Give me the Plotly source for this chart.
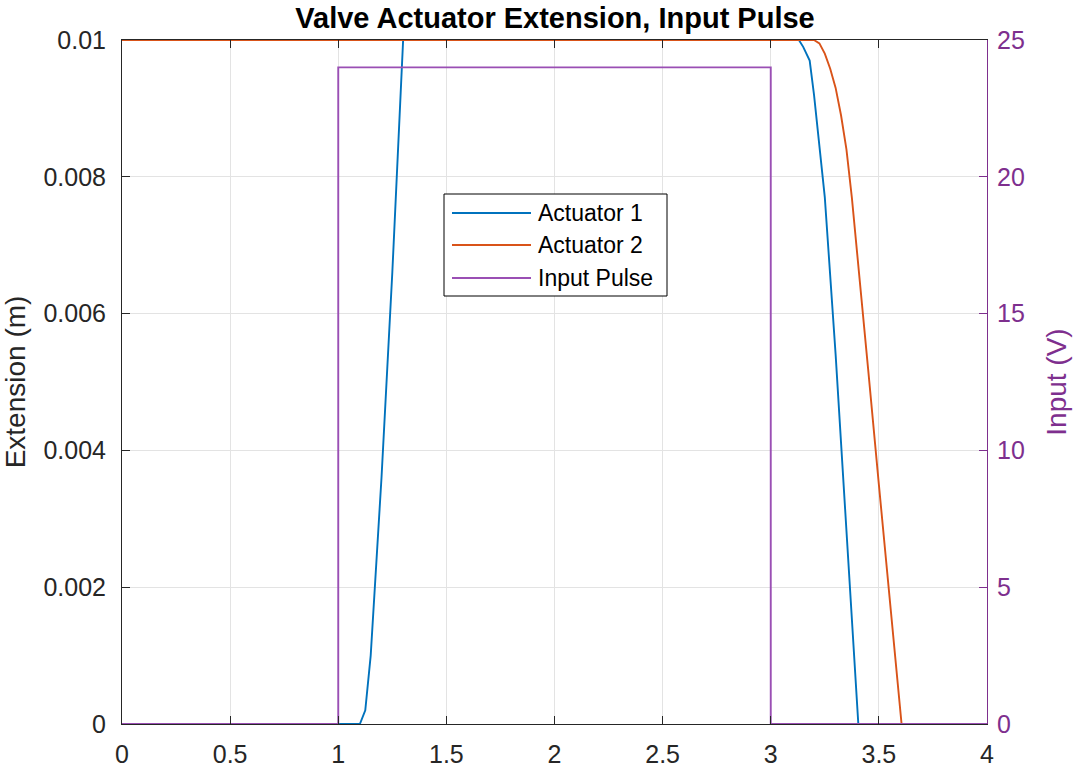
import plotly.graph_objects as go

# Data
t_act1 = [0, 1.1, 1.125, 1.15, 1.2, 1.25, 1.3, 3.13, 3.15, 3.18, 3.2, 3.25, 3.3, 3.35, 3.4, 3.405, 4]
ext_act1 = [0, 0, 0.0002, 0.001, 0.0036, 0.0066, 0.01, 0.01, 0.0099, 0.0097, 0.0092, 0.0077, 0.0054, 0.0029, 0.00025, 0, 0]

t_act2 = [0, 3.2, 3.225, 3.25, 3.275, 3.3, 3.325, 3.35, 3.375, 3.4, 3.45, 3.5, 3.55, 3.6, 3.605, 4]
ext_act2 = [0.01, 0.01, 0.00995, 0.0098, 0.00958, 0.0093, 0.0089, 0.0084, 0.0077, 0.0069, 0.0052, 0.0035, 0.0018, 0.0002, 0, 0]

t_pulse = [0, 1, 1, 3, 3, 4]
v_pulse = [0, 0, 24, 24, 0, 0]

series_names = ["Actuator 1", "Actuator 2", "Input Pulse"]

x_ticks = [0, 0.5, 1, 1.5, 2, 2.5, 3, 3.5, 4]
x_tick_labels = ["0", "0.5", "1", "1.5", "2", "2.5", "3", "3.5", "4"]
y_ticks = [0, 0.002, 0.004, 0.006, 0.008, 0.01]
y_tick_labels = ["0", "0.002", "0.004", "0.006", "0.008", "0.01"]
y2_ticks = [0, 5, 10, 15, 20, 25]

BLUE = "#0072BD"
ORANGE = "#D95319"
PURPLE = "#9A4FB4"
PURPLE_AX = "#7E2F8E"
AX = "#262626"
GRID = "#E3E3E3"
FONT = "Liberation Sans, Arial, Helvetica, sans-serif"

W, H = 1075, 767
L, R, T, B = 122, 88, 40, 43
PW, PH = W - L - R, H - T - B

def px_x(px):
    return (px - L) / PW

def px_y(py):
    return (H - B - py) / PH

fig = go.Figure()
colors = [BLUE, ORANGE, PURPLE]
fig.add_trace(go.Scatter(x=t_act1, y=ext_act1, mode="lines", name=series_names[0],
                         line=dict(color=BLUE, width=1.9)))
fig.add_trace(go.Scatter(x=t_act2, y=ext_act2, mode="lines", name=series_names[1],
                         line=dict(color=ORANGE, width=1.9)))
fig.add_trace(go.Scatter(x=t_pulse, y=v_pulse, mode="lines", name=series_names[2],
                         line=dict(color=PURPLE, width=1.9), yaxis="y2"))

# Manual legend (MATLAB style with long line samples)
shapes = [dict(type="rect", xref="paper", yref="paper",
               x0=px_x(444), x1=px_x(667), y0=px_y(296), y1=px_y(194),
               line=dict(color="#000000", width=1), fillcolor="white", layer="above")]
annotations = []
row_y = [213, 245, 278]
for name, col, ry in zip(series_names, colors, row_y):
    shapes.append(dict(type="line", xref="paper", yref="paper",
                       x0=px_x(452), x1=px_x(531), y0=px_y(ry), y1=px_y(ry),
                       line=dict(color=col, width=1.9), layer="above"))
    annotations.append(dict(text=name, xref="paper", yref="paper",
                            x=px_x(536), y=px_y(ry), xanchor="left", yanchor="middle",
                            showarrow=False, font=dict(size=23, color="#000000", family=FONT)))

fig.update_layout(
    width=W, height=H,
    margin=dict(l=L, r=R, t=T, b=B, autoexpand=False),
    paper_bgcolor="white", plot_bgcolor="white",
    font=dict(family=FONT, size=25, color=AX),
    showlegend=False,
    title=dict(text="<b>Valve Actuator Extension, Input Pulse</b>",
               x=(292 + 818) / 2 / W, xanchor="center", xref="container",
               y=1 - 18 / H, yanchor="middle", yref="container",
               font=dict(size=29, color="#000000")),
    xaxis=dict(range=[0, 4], tickvals=x_ticks, ticktext=x_tick_labels,
               showgrid=True, gridcolor=GRID, gridwidth=1,
               showline=True, linecolor=AX, linewidth=1, mirror="ticks",
               ticks="inside", ticklen=8, tickcolor=AX, zeroline=False,
               ticklabelstandoff=8, automargin=False,
               tickfont=dict(size=25, color=AX)),
    yaxis=dict(range=[0, 0.01], tickvals=y_ticks, ticktext=y_tick_labels,
               showgrid=True, gridcolor=GRID, gridwidth=1,
               showline=True, linecolor=AX, linewidth=1,
               ticks="inside", ticklen=8, tickcolor=AX, zeroline=False,
               ticklabelstandoff=10, automargin=False,
               title=dict(text="Extension (m)", font=dict(size=28, color=AX), standoff=10),
               tickfont=dict(size=25, color=AX)),
    yaxis2=dict(range=[0, 25], tickvals=y2_ticks, overlaying="y", side="right",
                showgrid=False, showline=True, linecolor=PURPLE_AX, linewidth=1,
                ticks="inside", ticklen=8, tickcolor=PURPLE_AX, zeroline=False,
                ticklabelstandoff=4, automargin=False,
                title=dict(text="Input (V)", font=dict(size=28, color=PURPLE_AX), standoff=22),
                tickfont=dict(size=25, color=PURPLE_AX)),
    shapes=shapes,
    annotations=annotations,
)

fig.write_html("out.html", config={"displayModeBar": False},
               post_script="document.body.style.margin='0';")
